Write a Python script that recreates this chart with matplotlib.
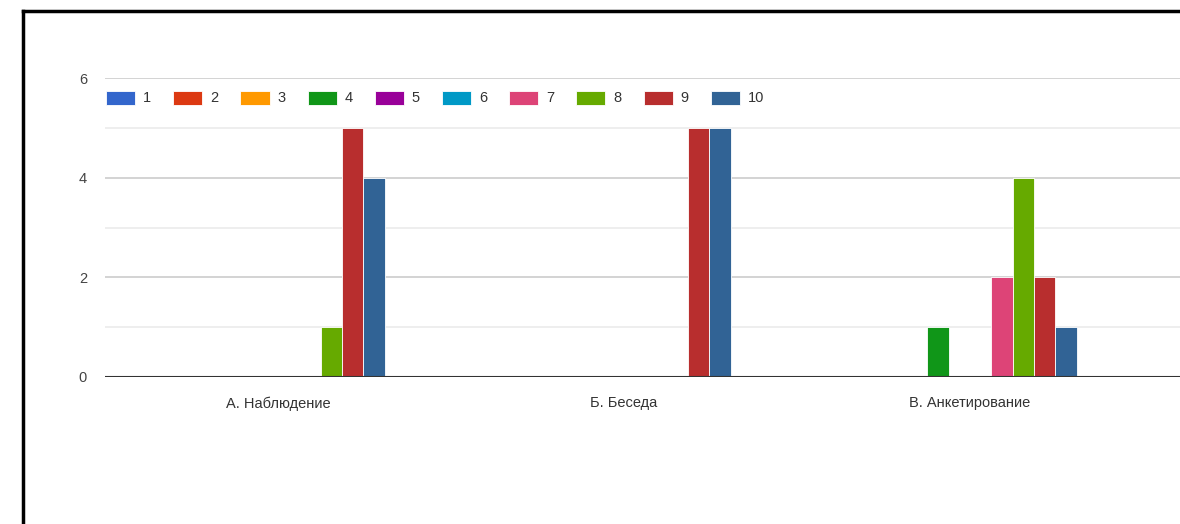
import matplotlib
matplotlib.use('Agg')
import matplotlib.pyplot as plt
from matplotlib.lines import Line2D
import numpy as np

# Survey answers: count of each score (1..10) per method
categories = ['А. Наблюдение', 'Б. Беседа', 'В. Анкетирование']
scores = ['1', '2', '3', '4', '5', '6', '7', '8', '9', '10']
counts = {
    '1': [0, 0, 0],
    '2': [0, 0, 0],
    '3': [0, 0, 0],
    '4': [0, 0, 1],
    '5': [0, 0, 0],
    '6': [0, 0, 0],
    '7': [0, 0, 2],
    '8': [1, 0, 4],
    '9': [5, 5, 2],
    '10': [4, 5, 1],
}
colors = ['#3366cc', '#dc3912', '#ff9900', '#109618', '#990099',
          '#0099c6', '#dd4477', '#66aa00', '#b82e2e', '#316395']

plt.rcParams['font.family'] = ['Liberation Sans', 'DejaVu Sans']

W, H = 1180, 524
fig = plt.figure(figsize=(W / 100, H / 100), dpi=100)
ax = fig.add_axes([105 / W, 1 - 377 / H, 1 - 105 / W, (377 - 78) / H])

x = np.arange(len(categories))
bar_w = 0.0616
for i, s in enumerate(scores):
    offs = (i - 4.5) * bar_w
    ax.bar(x + offs, counts[s], width=bar_w, color=colors[i],
           edgecolor='white', linewidth=0.6, label=s, zorder=3)

ax.set_ylim(0, 6)
ax.set_xlim(-0.5, (W - 105) / 346 - 0.5)

ax.set_yticks([0, 2, 4, 6])
ax.set_yticks([1, 3, 5], minor=True)
ax.grid(True, axis='y', which='major', color='#cccccc', linewidth=1.2, zorder=0)
ax.grid(True, axis='y', which='minor', color='#ebebeb', linewidth=1.2, zorder=0)
ax.axhline(0, color='#333333', linewidth=1.5, zorder=4)

ax.set_xticks(x)
ax.set_xticklabels(categories)
ax.tick_params(axis='x', length=0, pad=14, labelsize=10.5, labelcolor='#333333')
ax.tick_params(axis='y', which='both', length=0, pad=13, labelsize=10.5, labelcolor='#444444')
for sp in ax.spines.values():
    sp.set_visible(False)

ax.legend(loc='center left', bbox_to_anchor=(106 / W, 1 - 98 / H),
          bbox_transform=fig.transFigure, ncol=10, frameon=False,
          fontsize=10.5, handlelength=2.0, handleheight=1.1,
          handletextpad=0.55, columnspacing=1.5, borderpad=0,
          borderaxespad=0, labelcolor='#333333')

# black frame from the screenshot
fig.add_artist(Line2D([23 / W, 23 / W], [0, 1 - 11 / H], color='black',
                      linewidth=2.5, transform=fig.transFigure))
fig.add_artist(Line2D([23 / W, 1], [1 - 11 / H, 1 - 11 / H], color='black',
                      linewidth=2.5, transform=fig.transFigure))

fig.savefig('out.png', dpi=100)
